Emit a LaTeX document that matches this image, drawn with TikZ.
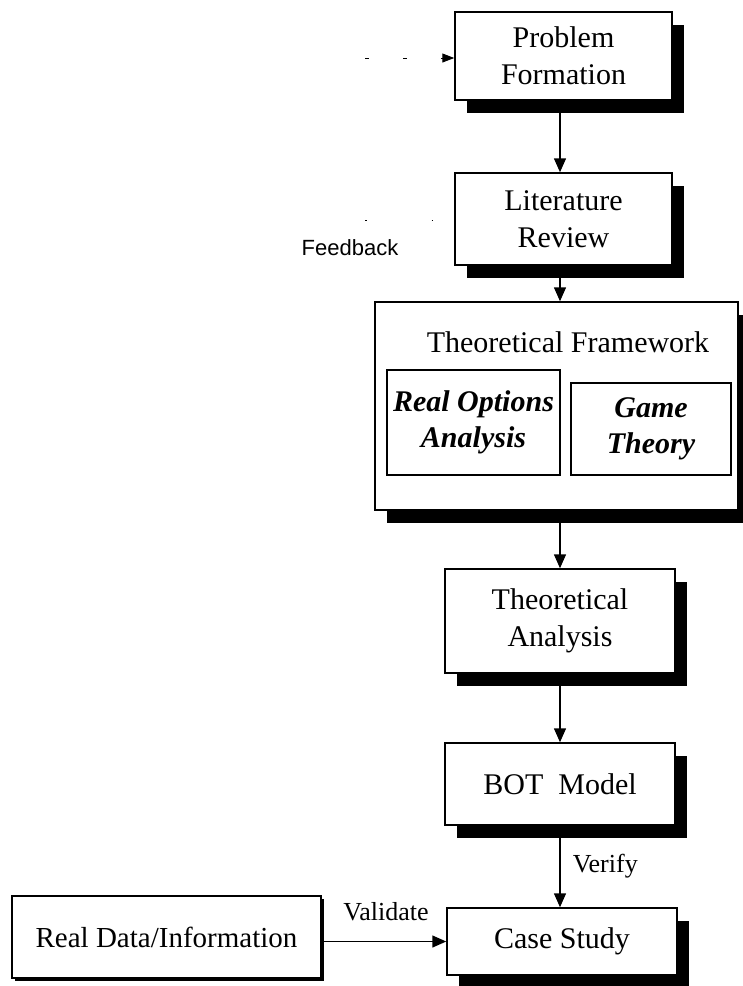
\documentclass[tikz,border=0pt]{standalone}
\usepackage{fontspec}
\setmainfont{Liberation Serif}
\newfontfamily\fbfont{Liberation Sans}
\usetikzlibrary{arrows.meta,shadows,calc}

\begin{document}
\begin{tikzpicture}[x=1pt,y=-1pt,
  box/.style={draw, line width=1.5pt, fill=white, align=center, inner sep=0pt,
    font=\fontsize{30}{37}\selectfont,
    drop shadow={shadow xshift=12pt, shadow yshift=-13pt, fill=black, opacity=1}},
  smallshadow/.style={draw, line width=1.5pt, fill=white, align=center, inner sep=0pt,
    font=\fontsize{29}{36}\selectfont,
    drop shadow={shadow xshift=3pt, shadow yshift=-3pt, fill=black, opacity=1}},
  inbox/.style={draw, line width=1.3pt, align=center, inner sep=0pt,
    font=\fontsize{30}{36}\selectfont\bfseries\itshape},
  arr/.style={line width=1.5pt, -{Triangle[length=14pt,width=12pt]}},
  fbline/.style={line width=1pt, dash pattern=on 4pt off 34pt},
  lbl/.style={font=\fontsize{26}{30}\selectfont, inner sep=0pt}
]
\useasboundingbox (0,0) rectangle (743,986);

% process boxes
\node[box, minimum width=217pt, minimum height=88pt] (pf) at (563.5,56) {Problem\\Formation};
\node[box, minimum width=217pt, minimum height=92pt] (lr) at (563.5,219) {Literature\\Review};
\node[box, minimum width=363pt, minimum height=208pt] (tf) at (556.5,406) {};
\node[font=\fontsize{30}{36}\selectfont, inner sep=0pt] (tft) at (568,342) {Theoretical Framework};
\node[inbox, minimum width=173pt, minimum height=105pt] (roa) at (473.5,422.5) {Real Options\\Analysis};
\node[inbox, minimum width=160pt, minimum height=92pt] (gt) at (651,429) {Game\\Theory};
\node[box, minimum width=230pt, minimum height=104pt] (ta) at (560,621) {Theoretical\\Analysis};
\node[box, minimum width=230pt, minimum height=82pt] (bot) at (560,784) {BOT\ \ Model};
\node[box, minimum width=230pt, minimum height=67pt] (cs) at (562,941.5) {Case Study};
\node[smallshadow, minimum width=309pt, minimum height=82pt] (rd) at (166.5,937) {Real Data/Information};

% main flow, all on the common vertical axis of the lower boxes
\draw[arr] (ta.north |- pf.south) -- (ta.north |- lr.north);
\draw[arr] (ta.north |- lr.south) -- (ta.north |- tf.north);
\draw[arr] (ta.north |- tf.south) -- (ta.north);
\draw[arr] (ta.south) -- (bot.north);
\draw[arr] (bot.south) -- (bot.south |- cs.north)
  node[lbl, midway, right=12pt] (verify) {Verify};
\draw[arr] (rd.east |- cs.west) -- (cs.west);
\node[lbl] (validate) at (386,912) {Validate};

% feedback loop (faded)
\coordinate (fbtop) at (365,58);
\coordinate (fbbot) at (365,220);
\draw[fbline, -{Triangle[length=12pt,width=9pt]}] (fbtop) -- (fbtop -| pf.west);
\draw[line width=1pt, dash pattern=on 1.5pt off 65pt] (fbbot) -- (fbbot -| lr.west);
\node[font=\fbfont\fontsize{22}{26}\selectfont, inner sep=0pt] (fb) at (350,248) {Feedback};
\end{tikzpicture}
\end{document}
